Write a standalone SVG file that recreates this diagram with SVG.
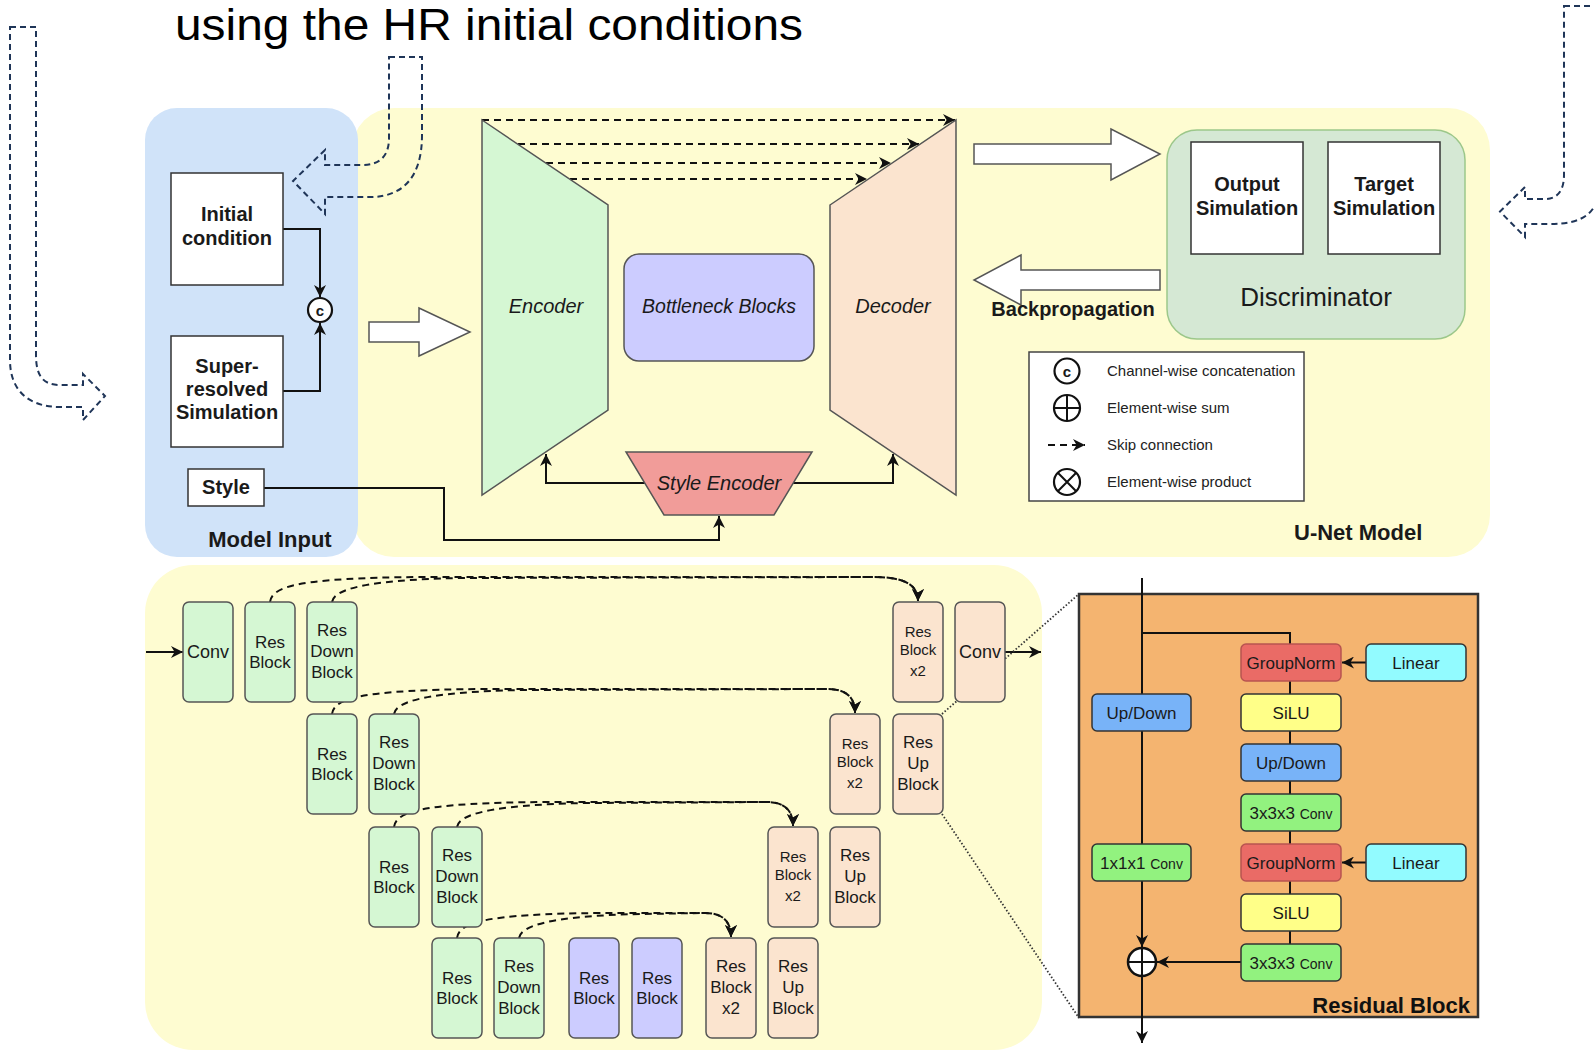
<svg xmlns="http://www.w3.org/2000/svg" width="1594" height="1052" viewBox="0 0 1594 1052">
<style>
text{font-family:"Liberation Sans",Arial,Helvetica,sans-serif}
.t{fill:#1a1a1a;text-anchor:middle}
.b{font-weight:bold}
.i{font-style:italic}
.box{fill:#fff;stroke:#333;stroke-width:1.5}
.g{fill:#d5f7d3;stroke:#555;stroke-width:1.5}
.p{fill:#fbe4cf;stroke:#555;stroke-width:1.5}
.v{fill:#ccccff;stroke:#555;stroke-width:1.5}
.nav{fill:none;stroke:#1f3558;stroke-width:2;stroke-dasharray:6 4}
.wa{fill:#fff;stroke:#555;stroke-width:1.5}
.ln{fill:none;stroke:#111;stroke-width:2}
.sk{fill:none;stroke:#111;stroke-width:2;stroke-dasharray:7 5}
.dot{fill:none;stroke:#333;stroke-width:1.8;stroke-dasharray:1.5 2}
.bt{font-size:17px}
.sm{font-size:15px}
.rb{font-size:17px}
.lg{font-size:15px;fill:#222}
</style>
<defs>
<marker id="arr" viewBox="0 0 10 10" refX="10" refY="5" markerWidth="12" markerHeight="12" markerUnits="userSpaceOnUse" orient="auto">
<path d="M0,0 L10,5 L0,10 L3,5 z" fill="#111"/>
</marker>
</defs>

<!-- panels -->
<g id="unet-panel">
<rect x="352" y="108" width="1138" height="449" rx="42" fill="#fefcd1"/>
</g>
<g id="model-input-panel">
<rect x="145" y="108" width="213" height="449" rx="32" fill="#d0e3f9"/>
</g>
<g id="bottom-panel">
<rect x="145" y="565" width="897" height="485" rx="48" fill="#fefcd1"/>
</g>

<!-- title -->
<text x="175" y="40" font-size="44" textLength="628" lengthAdjust="spacingAndGlyphs" fill="#000">using the HR initial conditions</text>

<!-- dashed outline arrows -->
<g id="dashed-arrows">
<path class="nav" d="M10,27 L36,27 L36,355 C36,376 43,385 60,385 L83,385 L83,374 L105,396 L83,420 L83,407 L60,407 C28,407 10,390 10,360 Z"/>
<path class="nav" d="M389,57 L422,57 L422,135 C422,176 404,197 370,197 L325,197 L325,214 L293,181 L325,150 L325,165 L362,165 C381,165 389,155 389,138 Z"/>
<path class="nav" d="M1564,6 L1600,6 L1600,180 C1600,212 1585,224 1550,224 L1525,224 L1525,237 L1500,211.5 L1525,187 L1525,199 L1545,199 C1558,199 1564,190 1564,175 Z"/>
</g>

<!-- connectors -->
<g id="connectors">
<path class="ln" d="M283,229 L320,229 L320,297" marker-end="url(#arr)"/>
<path class="ln" d="M283,391 L320,391 L320,323" marker-end="url(#arr)"/>
<path class="ln" d="M264,488 L444,488 L444,540 L719,540 L719,516" marker-end="url(#arr)"/>
<path class="ln" d="M646,483 L546,483 L546,454" marker-end="url(#arr)"/>
<path class="ln" d="M792,483 L893,483 L893,454" marker-end="url(#arr)"/>
<path class="sk" d="M482,120 L955,120" marker-end="url(#arr)"/>
<path class="sk" d="M518,144 L919,144" marker-end="url(#arr)"/>
<path class="sk" d="M546,163 L891,163" marker-end="url(#arr)"/>
<path class="sk" d="M570,179 L867,179" marker-end="url(#arr)"/>
<!-- bottom skip connections -->
<path class="sk" d="M270,602 C272,586 300,578 420,577 L873,577 C903,577 918,584 918,601" marker-end="url(#arr)"/>
<path class="sk" d="M332,602 C334,590 362,580 460,578 L873,577 C903,577 918,584 918,601" marker-end="url(#arr)"/>
<path class="sk" d="M332,714 C334,698 362,690 482,689 L827,689 C845,689 855,696 855,713" marker-end="url(#arr)"/>
<path class="sk" d="M394,714 C396,702 424,692 522,690 L827,689 C845,689 855,696 855,713" marker-end="url(#arr)"/>
<path class="sk" d="M394,827 C396,811 424,803 544,802 L767,802 C783,802 793,809 793,826" marker-end="url(#arr)"/>
<path class="sk" d="M457,827 C459,815 487,805 585,803 L767,802 C783,802 793,809 793,826" marker-end="url(#arr)"/>
<path class="sk" d="M457,938 C459,922 487,914 600,913 L705,913 C721,913 731,920 731,937" marker-end="url(#arr)"/>
<path class="sk" d="M519,938 C521,926 549,916 640,914 L705,913 C721,913 731,920 731,937" marker-end="url(#arr)"/>
<path class="ln" d="M146,652 L183,652" marker-end="url(#arr)"/>
<path class="ln" d="M1005,652 L1041,652" marker-end="url(#arr)"/>
<path class="dot" d="M942,714 L1079,594"/>
<path class="dot" d="M942,814 L1079,1018"/>
</g>

<!-- model input nodes -->
<g id="initial-condition">
<rect class="box" x="171" y="173" width="112" height="112"/>
<text class="t b" x="227" y="221" font-size="20">Initial</text>
<text class="t b" x="227" y="245" font-size="20">condition</text>
</g>
<g id="super-resolved">
<rect class="box" x="171" y="336" width="112" height="111"/>
<text class="t b" x="227" y="373" font-size="20">Super-</text>
<text class="t b" x="227" y="396" font-size="20">resolved</text>
<text class="t b" x="227" y="419" font-size="20">Simulation</text>
</g>
<g id="concat">
<circle cx="320" cy="310" r="12" fill="#fff" stroke="#111" stroke-width="2.2"/>
<text class="t b" x="320" y="315.5" font-size="15">c</text>
</g>
<g id="style">
<rect class="box" x="188" y="469" width="76" height="37"/>
<text class="t b" x="226" y="494" font-size="20">Style</text>
</g>
<text class="t b" x="270" y="547" font-size="22">Model Input</text>

<!-- white arrows -->
<g id="arrow-in"><path class="wa" d="M369,322 L419,322 L419,308 L470,332 L419,356 L419,342 L369,342 Z"/></g>
<g id="arrow-disc"><path class="wa" d="M974,144 L1111,144 L1111,129 L1160,154 L1111,180 L1111,164 L974,164 Z"/></g>
<g id="arrow-back"><path class="wa" d="M1160,270 L1021,270 L1021,255 L974,280 L1021,305 L1021,290 L1160,290 Z"/></g>
<text class="t b" x="1073" y="316" font-size="20">Backpropagation</text>

<!-- U-Net -->
<g id="encoder">
<path d="M482,120 L608,205 L608,410 L482,495 Z" fill="#d5f7d3" stroke="#555" stroke-width="1.5"/>
<text class="t i" x="546" y="313" font-size="20">Encoder</text>
</g>
<g id="bottleneck">
<rect x="624" y="254" width="190" height="107" rx="15" fill="#ccccff" stroke="#555" stroke-width="1.5"/>
<text class="t i" x="719" y="313" font-size="19.5">Bottleneck Blocks</text>
</g>
<g id="decoder">
<path d="M830,205 L956,120 L956,495 L830,410 Z" fill="#fbe4cf" stroke="#555" stroke-width="1.5"/>
<text class="t i" x="893" y="313" font-size="20">Decoder</text>
</g>
<g id="style-encoder">
<path d="M626,452 L812,452 L774,515 L664,515 Z" fill="#f19c99" stroke="#555" stroke-width="1.5"/>
<text class="t i" x="719" y="490" font-size="20">Style Encoder</text>
</g>

<!-- discriminator -->
<g id="discriminator">
<rect x="1167" y="130" width="298" height="209" rx="30" fill="#d5e8d4" stroke="#9cc78a" stroke-width="1.5"/>
<text class="t" x="1316" y="306" font-size="26">Discriminator</text>
</g>
<g id="output-sim">
<rect class="box" x="1191" y="142" width="112" height="112"/>
<text class="t b" x="1247" y="191" font-size="20">Output</text>
<text class="t b" x="1247" y="215" font-size="20">Simulation</text>
</g>
<g id="target-sim">
<rect class="box" x="1328" y="142" width="112" height="112"/>
<text class="t b" x="1384" y="191" font-size="20">Target</text>
<text class="t b" x="1384" y="215" font-size="20">Simulation</text>
</g>

<!-- legend -->
<g id="legend">
<rect x="1029" y="352" width="275" height="149" fill="#fff" stroke="#444" stroke-width="1.5"/>
<circle cx="1067" cy="371" r="12.5" fill="none" stroke="#111" stroke-width="2.2"/>
<text class="t b" x="1067" y="376.5" font-size="15">c</text>
<circle cx="1067" cy="408" r="13" fill="none" stroke="#111" stroke-width="2.2"/>
<path class="ln" d="M1054,408 L1080,408 M1067,395 L1067,421"/>
<path class="sk" d="M1048,445 L1085,445" stroke-dasharray="6 4" marker-end="url(#arr)"/>
<circle cx="1067" cy="482" r="13" fill="none" stroke="#111" stroke-width="2.2"/>
<path class="ln" d="M1057.8,472.8 L1076.2,491.2 M1076.2,472.8 L1057.8,491.2"/>
<text class="lg" x="1107" y="376">Channel-wise concatenation</text>
<text class="lg" x="1107" y="413">Element-wise sum</text>
<text class="lg" x="1107" y="450">Skip connection</text>
<text class="lg" x="1107" y="487">Element-wise product</text>
</g>
<text class="b" x="1294" y="540" font-size="22" fill="#1a1a1a">U-Net Model</text>

<!-- bottom U-Net blocks -->
<g id="b-conv-in"><rect class="g" x="183" y="602" width="50" height="100" rx="6"/><text class="t" x="208" y="658" font-size="18">Conv</text></g>
<g id="b-res1"><rect class="g" x="245" y="602" width="50" height="100" rx="6"/><text class="t bt" x="270" y="648">Res</text><text class="t bt" x="270" y="668">Block</text></g>
<g id="b-down1"><rect class="g" x="307" y="602" width="50" height="100" rx="6"/><text class="t bt" x="332" y="636">Res</text><text class="t bt" x="332" y="657">Down</text><text class="t bt" x="332" y="678">Block</text></g>
<g id="b-res2"><rect class="g" x="307" y="714" width="50" height="100" rx="6"/><text class="t bt" x="332" y="760">Res</text><text class="t bt" x="332" y="780">Block</text></g>
<g id="b-down2"><rect class="g" x="369" y="714" width="50" height="100" rx="6"/><text class="t bt" x="394" y="748">Res</text><text class="t bt" x="394" y="769">Down</text><text class="t bt" x="394" y="790">Block</text></g>
<g id="b-res3"><rect class="g" x="369" y="827" width="50" height="100" rx="6"/><text class="t bt" x="394" y="873">Res</text><text class="t bt" x="394" y="893">Block</text></g>
<g id="b-down3"><rect class="g" x="432" y="827" width="50" height="100" rx="6"/><text class="t bt" x="457" y="861">Res</text><text class="t bt" x="457" y="882">Down</text><text class="t bt" x="457" y="903">Block</text></g>
<g id="b-res4"><rect class="g" x="432" y="938" width="50" height="100" rx="6"/><text class="t bt" x="457" y="984">Res</text><text class="t bt" x="457" y="1004">Block</text></g>
<g id="b-down4"><rect class="g" x="494" y="938" width="50" height="100" rx="6"/><text class="t bt" x="519" y="972">Res</text><text class="t bt" x="519" y="993">Down</text><text class="t bt" x="519" y="1014">Block</text></g>
<g id="b-mid1"><rect class="v" x="569" y="938" width="50" height="100" rx="6"/><text class="t bt" x="594" y="984">Res</text><text class="t bt" x="594" y="1004">Block</text></g>
<g id="b-mid2"><rect class="v" x="632" y="938" width="50" height="100" rx="6"/><text class="t bt" x="657" y="984">Res</text><text class="t bt" x="657" y="1004">Block</text></g>
<g id="b-x2-4"><rect class="p" x="706" y="938" width="50" height="100" rx="6"/><text class="t bt" x="731" y="972">Res</text><text class="t bt" x="731" y="993">Block</text><text class="t bt" x="731" y="1014">x2</text></g>
<g id="b-up4"><rect class="p" x="768" y="938" width="50" height="100" rx="6"/><text class="t bt" x="793" y="972">Res</text><text class="t bt" x="793" y="993">Up</text><text class="t bt" x="793" y="1014">Block</text></g>
<g id="b-x2-3"><rect class="p" x="768" y="827" width="50" height="100" rx="6"/><text class="t sm" x="793" y="862">Res</text><text class="t sm" x="793" y="880">Block</text><text class="t sm" x="793" y="901">x2</text></g>
<g id="b-up3"><rect class="p" x="830" y="827" width="50" height="100" rx="6"/><text class="t bt" x="855" y="861">Res</text><text class="t bt" x="855" y="882">Up</text><text class="t bt" x="855" y="903">Block</text></g>
<g id="b-x2-2"><rect class="p" x="830" y="714" width="50" height="100" rx="6"/><text class="t sm" x="855" y="749">Res</text><text class="t sm" x="855" y="767">Block</text><text class="t sm" x="855" y="788">x2</text></g>
<g id="b-up2"><rect class="p" x="893" y="714" width="50" height="100" rx="6"/><text class="t bt" x="918" y="748">Res</text><text class="t bt" x="918" y="769">Up</text><text class="t bt" x="918" y="790">Block</text></g>
<g id="b-x2-1"><rect class="p" x="893" y="602" width="50" height="100" rx="6"/><text class="t sm" x="918" y="637">Res</text><text class="t sm" x="918" y="655">Block</text><text class="t sm" x="918" y="676">x2</text></g>
<g id="b-conv-out"><rect class="p" x="955" y="602" width="50" height="100" rx="6"/><text class="t" x="980" y="658" font-size="18">Conv</text></g>

<!-- residual block -->
<g id="residual-panel">
<rect x="1079" y="594" width="399" height="423" fill="#f4b470" stroke="#333" stroke-width="2.5"/>
<text class="b" x="1470" y="1013" font-size="22" text-anchor="end" fill="#111">Residual Block</text>
</g>
<g id="residual-connectors">
<path class="ln" d="M1142,578 L1142,947" marker-end="url(#arr)"/>
<path class="ln" d="M1142,633 L1290,633 L1290,944"/>
<path class="ln" d="M1366,662.5 L1342,662.5" marker-end="url(#arr)"/>
<path class="ln" d="M1366,862.5 L1342,862.5" marker-end="url(#arr)"/>
<path class="ln" d="M1241,962 L1157,962" marker-end="url(#arr)"/>
<path class="ln" d="M1142,976 L1142,1043" marker-end="url(#arr)"/>
</g>
<g id="r-updown-left"><rect x="1092" y="694" width="99" height="37" rx="5" fill="#78b3f8" stroke="#333" stroke-width="1.5"/><text class="t rb" x="1141.5" y="718.5">Up/Down</text></g>
<g id="r-conv1x1"><rect x="1092" y="844" width="99" height="37" rx="5" fill="#92f27f" stroke="#333" stroke-width="1.5"/><text class="t rb" x="1141.5" y="868.5">1x1x1 <tspan font-size="14">Conv</tspan></text></g>
<g id="r-gn1"><rect x="1241" y="644" width="100" height="37" rx="5" fill="#ea6b66" stroke="#b85450" stroke-width="1.5"/><text class="t rb" x="1291" y="668.5">GroupNorm</text></g>
<g id="r-silu1"><rect x="1241" y="694" width="100" height="37" rx="5" fill="#ffff88" stroke="#333" stroke-width="1.5"/><text class="t rb" x="1291" y="718.5">SiLU</text></g>
<g id="r-updown"><rect x="1241" y="744" width="100" height="37" rx="5" fill="#78b3f8" stroke="#333" stroke-width="1.5"/><text class="t rb" x="1291" y="768.5">Up/Down</text></g>
<g id="r-conv1"><rect x="1241" y="794" width="100" height="37" rx="5" fill="#92f27f" stroke="#333" stroke-width="1.5"/><text class="t rb" x="1291" y="818.5">3x3x3 <tspan font-size="14">Conv</tspan></text></g>
<g id="r-gn2"><rect x="1241" y="844" width="100" height="37" rx="5" fill="#ea6b66" stroke="#b85450" stroke-width="1.5"/><text class="t rb" x="1291" y="868.5">GroupNorm</text></g>
<g id="r-silu2"><rect x="1241" y="894" width="100" height="37" rx="5" fill="#ffff88" stroke="#333" stroke-width="1.5"/><text class="t rb" x="1291" y="918.5">SiLU</text></g>
<g id="r-conv2"><rect x="1241" y="944" width="100" height="37" rx="5" fill="#92f27f" stroke="#333" stroke-width="1.5"/><text class="t rb" x="1291" y="968.5">3x3x3 <tspan font-size="14">Conv</tspan></text></g>
<g id="r-linear1"><rect x="1366" y="644" width="100" height="37" rx="5" fill="#92fbff" stroke="#333" stroke-width="1.5"/><text class="t rb" x="1416" y="668.5">Linear</text></g>
<g id="r-linear2"><rect x="1366" y="844" width="100" height="37" rx="5" fill="#92fbff" stroke="#333" stroke-width="1.5"/><text class="t rb" x="1416" y="868.5">Linear</text></g>
<g id="r-sum">
<circle cx="1142" cy="962" r="14" fill="#fff" stroke="#111" stroke-width="2.5"/>
<path class="ln" d="M1128,962 L1156,962 M1142,948 L1142,976"/>
</g>
</svg>
